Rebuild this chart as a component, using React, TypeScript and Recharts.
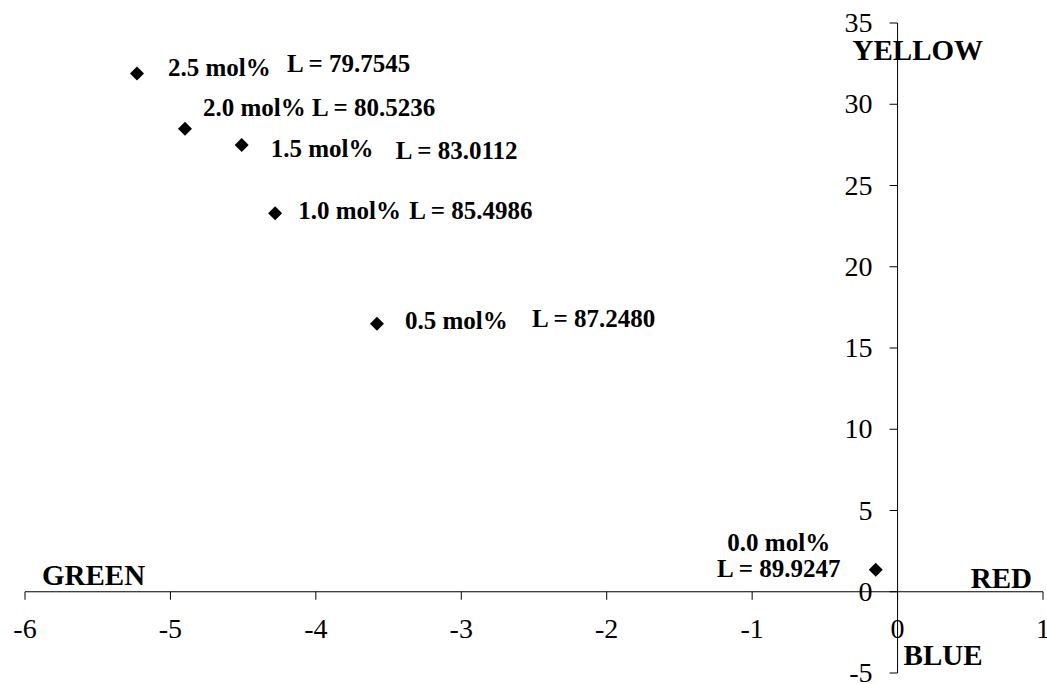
import { ScatterChart, Scatter, XAxis, YAxis, ReferenceLine, ReferenceDot } from "recharts";

// CIELab colour coordinates (a* = green/red, b* = blue/yellow)
const concentrations = ["0.0 mol%", "0.5 mol%", "1.0 mol%", "1.5 mol%", "2.0 mol%", "2.5 mol%"];
const lightness = ["L = 89.9247", "L = 87.2480", "L = 85.4986", "L = 83.0112", "L = 80.5236", "L = 79.7545"];
const aStar = [-0.15, -3.58, -4.28, -4.51, -4.9, -5.23];
const bStar = [1.35, 16.5, 23.3, 27.5, 28.5, 31.9];

const xTicks = [-6, -5, -4, -3, -2, -1, 0, 1];
const yTicks = [-5, 0, 5, 10, 15, 20, 25, 30, 35];

// pixel offsets of the two label parts, relative to each point
const labelLayout = [
  { anchor: "middle", molDx: -97, molDy: -19, lDx: -97, lDy: 7 },
  { anchor: "start", molDx: 28, molDy: 5, lDx: 155, lDy: 3 },
  { anchor: "start", molDx: 23, molDy: 6, lDx: 134, lDy: 6 },
  { anchor: "start", molDx: 29, molDy: 12, lDx: 154, lDy: 14 },
  { anchor: "start", molDx: 18, molDy: -13, lDx: 127, lDy: -13 },
  { anchor: "start", molDx: 31, molDy: 3, lDx: 150, lDy: -1 },
];

const data = aStar.map((a, i) => ({ a, b: bStar[i], mol: concentrations[i], L: lightness[i], idx: i }));

const FONT = '"Liberation Serif", "Times New Roman", serif';
const txt = { fontFamily: FONT, fill: "#000" };

// eslint-disable-next-line @typescript-eslint/no-explicit-any
function DataPoint(props: any) {
  const { cx, cy, payload } = props;
  const lay = labelLayout[payload.idx];
  const s = 7;
  return (
    <g>
      <path d={`M${cx},${cy - s}L${cx + s},${cy}L${cx},${cy + s}L${cx - s},${cy}Z`} fill="#000" />
      <text x={cx + lay.molDx} y={cy + lay.molDy} textAnchor={lay.anchor} style={{ ...txt, fontWeight: 700, fontSize: 25 }}>
        {payload.mol}
      </text>
      <text x={cx + lay.lDx} y={cy + lay.lDy} textAnchor={lay.anchor} style={{ ...txt, fontWeight: 700, fontSize: 25 }}>
        {payload.L}
      </text>
    </g>
  );
}

// eslint-disable-next-line @typescript-eslint/no-explicit-any
function XTickMark({ cx, cy, label }: any) {
  return (
    <g>
      <line x1={cx} y1={cy} x2={cx} y2={cy + 8} stroke="#000" strokeWidth={1} />
      <text x={cx} y={cy + 46} textAnchor="middle" style={{ ...txt, fontSize: 28 }}>
        {label}
      </text>
    </g>
  );
}

// eslint-disable-next-line @typescript-eslint/no-explicit-any
function YTickMark({ cx, cy, label }: any) {
  return (
    <g>
      <line x1={cx - 8} y1={cy} x2={cx} y2={cy} stroke="#000" strokeWidth={1} />
      <text x={cx - 25} y={cy + 9} textAnchor="end" style={{ ...txt, fontSize: 28 }}>
        {label}
      </text>
    </g>
  );
}

// eslint-disable-next-line @typescript-eslint/no-explicit-any
function AxisName({ cx, cy, text, dx, dy, anchor }: any) {
  return (
    <text x={cx + dx} y={cy + dy} textAnchor={anchor} style={{ ...txt, fontWeight: 700, fontSize: 29 }}>
      {text}
    </text>
  );
}

export default function App() {
  return (
    <div style={{ position: "absolute", left: 0, top: 0, background: "#fff" }}>
      <ScatterChart width={1047} height={684} margin={{ top: 23, right: 4, bottom: 11, left: 25 }}>
        <XAxis type="number" dataKey="a" domain={[-6, 1]} allowDataOverflow hide />
        <YAxis type="number" dataKey="b" domain={[-5, 35]} allowDataOverflow hide />
        <ReferenceLine y={0} stroke="#000" strokeWidth={1} />
        <ReferenceLine x={0} stroke="#000" strokeWidth={1} />
        {xTicks.map((t) => (
          <ReferenceDot key={`x${t}`} x={t} y={0} shape={(p: any) => <XTickMark {...p} label={t} />} />
        ))}
        {yTicks.map((t) => (
          <ReferenceDot key={`y${t}`} x={0} y={t} shape={(p: any) => <YTickMark {...p} label={t} />} />
        ))}
        <ReferenceDot x={0} y={35} shape={(p: any) => <AxisName {...p} text="YELLOW" dx={-45} dy={37} anchor="start" />} />
        <ReferenceDot x={-6} y={0} shape={(p: any) => <AxisName {...p} text="GREEN" dx={17} dy={-7} anchor="start" />} />
        <ReferenceDot x={1} y={0} shape={(p: any) => <AxisName {...p} text="RED" dx={-11} dy={-4} anchor="end" />} />
        <ReferenceDot x={0} y={-5} shape={(p: any) => <AxisName {...p} text="BLUE" dx={6} dy={-8} anchor="start" />} />
        <Scatter data={data} shape={DataPoint} isAnimationActive={false} />
      </ScatterChart>
    </div>
  );
}
